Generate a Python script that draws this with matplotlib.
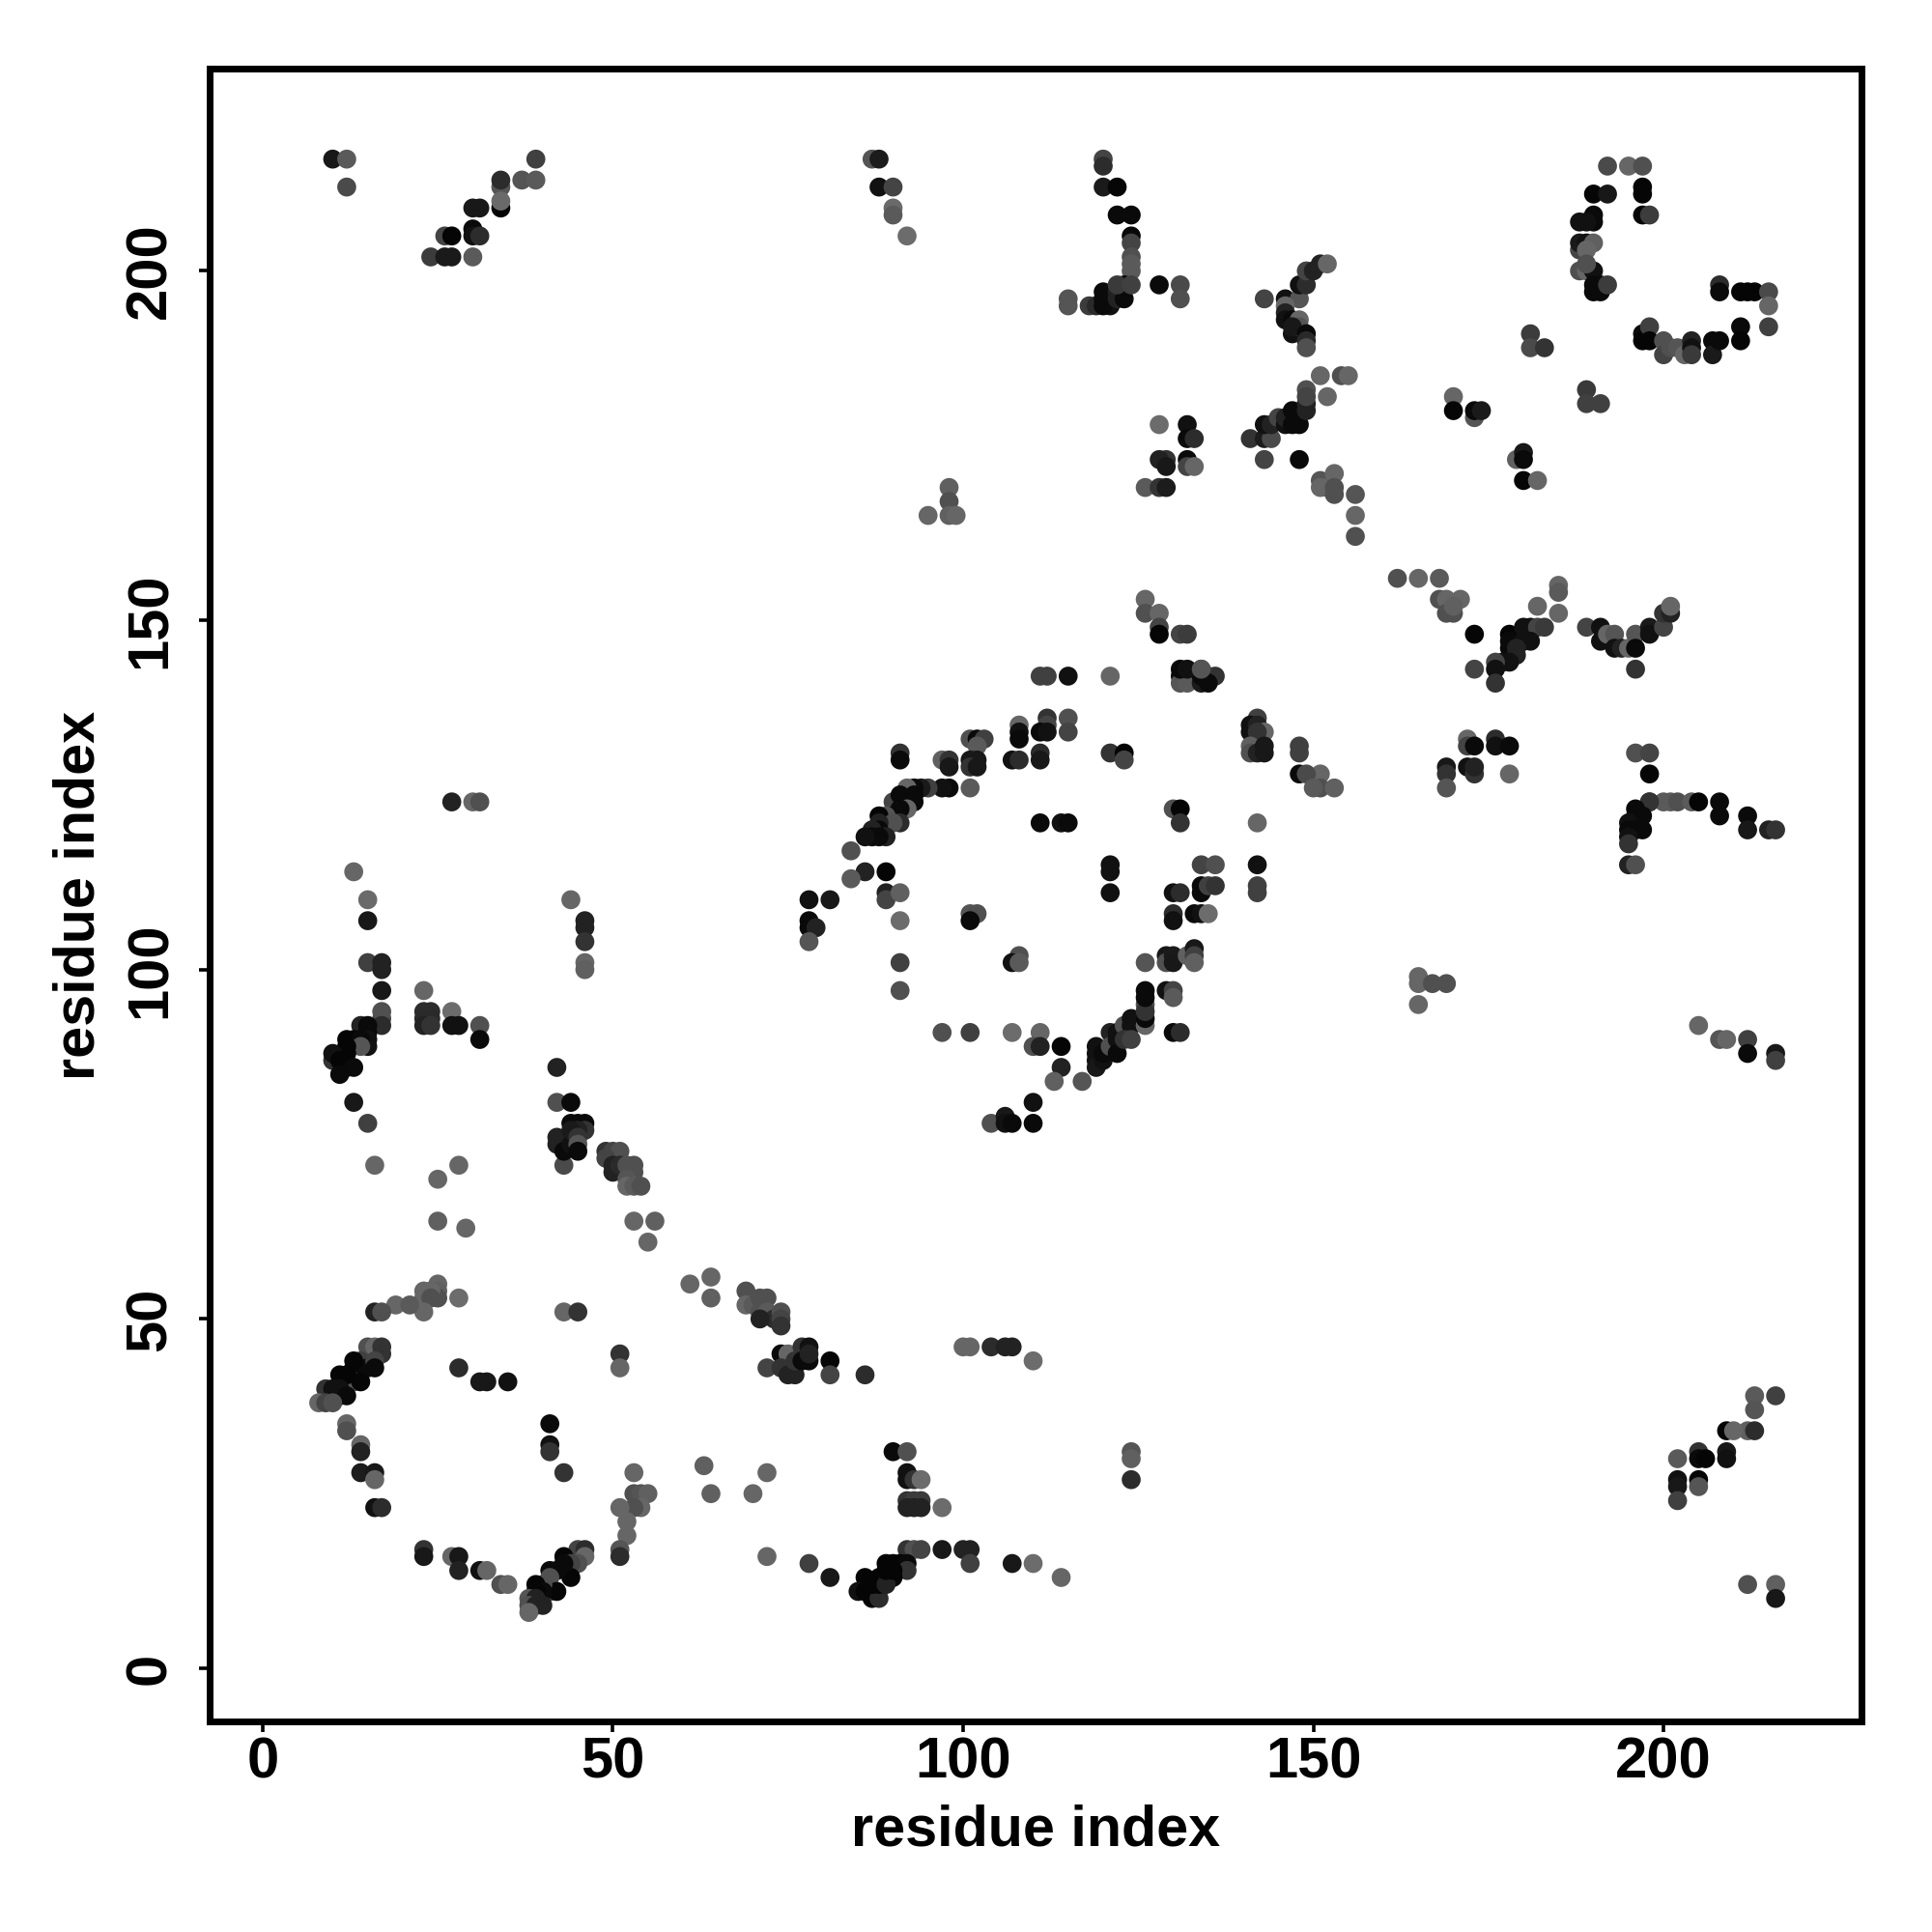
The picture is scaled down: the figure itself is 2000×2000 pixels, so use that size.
import matplotlib
matplotlib.use("Agg")
import matplotlib.pyplot as plt

# contact map: residue pairs and their grey level
res_i = [
    10, 12, 12, 39, 34, 34, 37, 39, 34, 34, 30, 31, 30, 30, 31, 26, 27, 24, 26, 27, 30,
    87, 88, 88, 90, 90, 90, 92, 120, 120, 120, 122, 122, 124, 124, 124, 124, 124, 124,
    118, 119, 115, 115, 121, 120, 120, 120, 122, 122, 123, 123, 122, 124, 128, 131, 131,
    143, 146, 148, 148, 149, 149, 150, 151, 152,
    146, 146, 146, 147, 147, 148, 148, 147, 149, 149, 149,
    128, 132, 132, 133, 129, 128, 129, 132, 132, 133, 126, 128, 129,
    98, 98, 98, 99, 95,
    141, 143, 144, 143, 148, 143, 144, 145, 146, 146, 147, 147, 148, 149, 149, 149, 149, 151, 154, 155, 152,
    126, 126, 128, 128, 128, 131, 132,
    192, 195, 197, 190, 192, 197, 197, 197, 198, 190, 190, 188, 189,
    188, 188, 189, 190, 189, 188, 189, 190, 189, 190, 191, 190, 191, 192,
    208, 208, 211, 212, 213, 215, 215, 215, 211, 211,
    181, 181, 183, 197, 197, 198, 198, 200, 200, 201, 202, 203, 204, 204, 204,
    207, 207, 208, 189, 189, 191, 170, 170, 173, 173, 174,
    179, 180, 180, 180, 182, 156, 156, 156, 151, 152, 151, 153, 153, 153,
    162, 165, 168, 168, 169, 171, 169, 170, 170, 173,
    185, 185, 182, 185, 178, 180, 181, 182, 183, 178, 180, 181, 178, 179, 179, 177, 178, 176, 173, 176, 176,
    189, 191, 191, 192, 193, 193, 194, 195, 196, 196, 198, 198, 200, 200, 201, 201, 196,
    172, 172, 173, 176, 176, 178, 169, 169, 169, 172, 173, 173, 178, 151, 151, 153,
    196, 198, 198, 198, 200, 201, 202, 204, 205, 208, 208, 212, 212, 215, 216,
    198, 197, 196, 196, 197, 195, 196, 195, 195, 195, 195, 196,
    165, 165, 167, 169, 165, 205, 208, 209, 212, 212, 216, 216,
    27, 30, 31, 13, 15, 15, 15, 17, 17, 17, 17, 17, 17,
    14, 15, 15, 15, 15, 12, 13, 14, 14, 12, 12, 10, 10, 11, 12, 13, 11,
    13, 15, 16, 23, 23, 24, 23, 24, 23, 24, 27, 27, 28, 31, 31, 25, 28,
    42, 42, 44, 46, 46, 46, 46, 46, 44,
    43, 42, 42, 43, 43, 44, 44, 45, 46, 46, 45, 44, 45, 45, 45,
    49, 50, 51, 49, 50, 50, 51, 52, 53, 53, 52, 52, 53, 54,
    25, 29, 53, 56, 55, 61, 64, 64,
    25, 25, 25, 23, 23, 24, 24, 23, 19, 21, 28, 16, 17, 43, 45, 51, 51, 28, 31, 32, 35,
    41, 41, 41, 43,
    15, 16, 17, 17, 14, 15, 13, 16, 13, 16, 13, 14, 11, 12, 11, 9, 10, 11, 12, 8, 9, 10,
    12, 12, 14, 14, 14, 16, 16, 16, 17,
    23, 23, 27, 28, 28, 31, 32, 34, 35,
    45, 46, 46, 45, 43, 44, 44, 42, 41, 41, 41, 42, 40, 39, 40, 39, 38, 39, 40, 38, 39, 38, 43,
    53, 53, 54, 55, 54, 53, 51, 52, 52, 51, 51,
    63, 64, 70, 72, 72,
    69, 69, 70, 71, 72, 71, 72, 73, 74, 74, 74, 71,
    72, 74, 75, 74, 75, 76, 76, 77, 78, 78, 77, 78, 81, 81, 86,
    100, 101, 104, 106, 107, 110,
    90, 92, 92, 92, 93, 94, 92, 93, 94, 92, 93, 94, 97,
    92, 93, 94, 97, 100, 101, 101, 107, 110, 114, 78, 81, 124, 124, 124,
    89, 90, 91, 92, 92, 86, 88, 90, 85, 86, 87, 88, 87, 88, 89, 89, 90,
    213, 216, 213, 209, 212, 213, 210, 205, 209, 209, 202, 205, 206,
    202, 202, 202, 205, 205, 212, 216, 216,
    111, 112, 115, 121, 131, 132, 131, 132, 134, 135, 136, 134, 135, 134,
    131, 132, 134, 112, 112, 111, 112, 115, 115, 108, 108, 108,
    101, 102, 103, 102, 91, 91, 97, 98, 98,
    101, 102, 101, 102, 107, 108, 111, 111,
    101, 98, 97, 95, 94, 93, 92, 93, 92, 91, 90, 91, 93, 92, 91,
    90, 89, 88, 91, 90, 88, 88, 87, 89, 88, 87, 86,
    84, 86, 89, 84, 78, 81, 89, 89, 91, 91,
    78, 78, 79, 78, 91, 91, 101, 102, 101, 108, 107, 108,
    97, 101, 107, 111, 110, 111, 114, 114, 113, 117, 110, 110, 104, 106, 106, 107,
    119, 119, 119, 119, 120, 120, 121, 121, 122, 122, 122, 123, 124, 124, 123, 124,
    126, 126, 126, 126, 126, 126, 126, 129, 130, 130,
    129, 129, 130, 130, 132, 133, 133, 133,
    130, 130, 133, 134, 135, 130, 131, 134, 134, 135, 136, 134, 136, 130, 131,
    121, 121, 121, 130, 131, 131, 142, 111, 114, 115, 121, 123, 123,
    142, 141, 141, 142, 143, 142, 141, 141, 142, 143, 143, 142, 142, 142,
    148, 148, 148, 149, 150,
]
res_j = [
    216, 216, 212, 216, 212, 213, 213, 213, 209, 210, 209, 209, 206, 205, 205, 205, 205, 202, 202, 202, 202,
    216, 216, 212, 212, 209, 208, 205, 216, 215, 212, 212, 208, 208, 205, 204, 202, 201, 200,
    195, 195, 195, 196, 195, 197, 196, 195, 197, 196, 198, 196, 198, 198, 198, 198, 196,
    196, 196, 196, 198, 198, 200, 200, 201, 201,
    195, 194, 193, 193, 191, 193, 192, 192, 191, 190, 189,
    178, 178, 176, 176, 173, 173, 172, 173, 172, 172, 169, 169, 169,
    169, 167, 165, 165, 165,
    176, 176, 176, 173, 173, 178, 178, 179, 178, 179, 178, 180, 178, 181, 180, 183, 182, 185, 185, 185, 182,
    153, 151, 151, 149, 148, 148, 148,
    215, 215, 215, 211, 211, 212, 211, 208, 208, 208, 207, 207, 207,
    203, 204, 204, 204, 203, 200, 200, 200, 201, 198, 198, 197, 197, 198,
    198, 197, 197, 197, 197, 197, 195, 192, 192, 190,
    191, 189, 189, 191, 190, 192, 190, 190, 188, 189, 189, 188, 190, 189, 188,
    190, 188, 190, 183, 181, 181, 182, 180, 179, 180, 180,
    173, 174, 173, 170, 170, 168, 165, 162, 170, 169, 169, 171, 169, 168,
    156, 156, 156, 153, 153, 153, 151, 151, 152, 148,
    155, 154, 152, 151, 148, 149, 149, 149, 149, 147, 147, 147, 146, 146, 145, 144, 144, 144, 143, 143, 141,
    149, 149, 147, 148, 148, 146, 146, 146, 148, 146, 149, 148, 149, 151, 151, 152, 143,
    133, 132, 132, 133, 132, 132, 129, 128, 126, 129, 128, 129, 128, 128, 126, 126,
    131, 131, 128, 124, 124, 124, 124, 124, 124, 124, 122, 122, 120, 120, 120,
    124, 122, 123, 122, 120, 121, 120, 120, 119, 118, 115, 115,
    99, 98, 98, 98, 95, 92, 90, 90, 90, 88, 88, 87,
    124, 124, 124, 114, 110, 107, 101, 101, 100, 97, 93, 94, 92,
    92, 92, 91, 90, 89, 90, 90, 90, 89, 89, 88, 87, 88, 87, 86, 86, 85,
    81, 78, 72, 97, 94, 94, 93, 93, 92, 92, 94, 92, 92, 92, 90, 70, 72,
    86, 81, 81, 107, 106, 104, 101, 100, 110,
    72, 76, 75, 75, 74, 75, 78, 78, 78, 77, 77, 77, 76, 75, 74,
    74, 74, 74, 73, 72, 71, 72, 72, 72, 71, 70, 69, 69, 69,
    64, 63, 64, 64, 61, 55, 56, 53,
    55, 54, 53, 54, 53, 54, 53, 51, 52, 52, 53, 51, 51, 51, 51, 45, 43, 43, 41, 41, 41,
    35, 32, 31, 28,
    46, 46, 46, 45, 44, 43, 43, 44, 44, 43, 41, 41, 42, 42, 39, 40, 40, 40, 39, 38, 38, 38,
    35, 34, 32, 31, 28, 28, 27, 23, 23,
    17, 16, 16, 16, 14, 14, 14, 12, 12,
    17, 17, 16, 15, 16, 15, 13, 14, 14, 13, 11, 11, 12, 12, 11, 11, 10, 10, 9, 9, 9, 8, 15,
    28, 25, 25, 25, 23, 23, 23, 21, 19, 17, 16,
    29, 25, 25, 28, 16,
    54, 52, 52, 53, 53, 51, 51, 50, 51, 50, 49, 50,
    43, 45, 45, 43, 42, 42, 44, 46, 46, 44, 44, 45, 44, 42, 42,
    46, 46, 46, 46, 46, 44,
    31, 31, 28, 27, 27, 27, 24, 24, 24, 23, 23, 23, 23,
    17, 17, 17, 17, 17, 17, 15, 15, 15, 13, 15, 13, 31, 30, 27,
    15, 15, 15, 15, 14, 13, 13, 13, 11, 11, 10, 10, 12, 12, 12, 14, 14,
    39, 39, 37, 34, 34, 34, 34, 31, 31, 30, 30, 30, 30,
    27, 26, 24, 27, 26, 12, 12, 10,
    142, 142, 142, 142, 142, 142, 141, 141, 143, 142, 142, 141, 141, 142,
    143, 143, 143, 136, 135, 134, 134, 136, 134, 135, 134, 133,
    133, 133, 133, 132, 131, 130, 130, 130, 129,
    130, 130, 129, 129, 130, 130, 131, 130,
    126, 126, 126, 126, 126, 126, 126, 124, 124, 124, 124, 125, 125, 123, 123,
    122, 122, 122, 121, 121, 121, 120, 120, 119, 119, 119, 119,
    117, 114, 114, 113, 110, 110, 111, 110, 111, 107,
    107, 106, 106, 104, 101, 97, 108, 108, 107, 102, 101, 101,
    91, 91, 91, 91, 89, 89, 89, 86, 84, 84, 81, 78, 78, 79, 78, 78,
    89, 88, 87, 86, 87, 88, 91, 89, 91, 90, 88, 92, 93, 92, 90, 90,
    92, 93, 95, 94, 97, 96, 101, 97, 97, 96,
    102, 101, 102, 101, 102, 103, 102, 101,
    108, 107, 108, 108, 108, 111, 111, 112, 111, 112, 112, 115, 115, 91, 91,
    115, 114, 111, 123, 123, 121, 121, 121, 121, 121, 131, 131, 130,
    136, 135, 134, 135, 134, 134, 132, 131, 131, 132, 131, 115, 112, 111,
    132, 131, 128, 128, 126,
]
grey = [
    24, 90, 74, 64, 85, 44, 85, 90, 5, 106, 24, 24, 10, 17, 44, 68, 5, 60, 26, 26, 90,
    85, 28, 17, 68, 106, 90, 108, 68, 44, 26, 6, 10, 10, 8, 68, 80, 90, 90,
    60, 42, 85, 85, 17, 10, 10, 10, 34, 34, 10, 10, 58, 64, 10, 74, 80,
    68, 17, 85, 17, 44, 68, 34, 34, 102,
    102, 34, 17, 10, 17, 102, 85, 24, 10, 42, 80,
    108, 17, 10, 44, 51, 34, 24, 10, 68, 102, 90, 51, 28,
    96, 80, 96, 102, 102,
    51, 28, 74, 68, 8, 17, 34, 68, 17, 34, 10, 10, 10, 34, 34, 80, 68, 102, 80, 102, 102,
    102, 80, 102, 68, 5, 68, 60,
    74, 102, 80, 6, 24, 6, 6, 6, 60, 10, 10, 17, 17,
    68, 26, 17, 96, 102, 80, 102, 17, 80, 10, 10, 10, 10, 60,
    44, 10, 5, 5, 5, 74, 102, 64, 10, 5,
    60, 74, 51, 10, 5, 64, 5, 80, 68, 80, 85, 102, 34, 17, 58,
    10, 26, 10, 58, 64, 64, 102, 6, 85, 10, 26,
    96, 24, 10, 6, 102, 85, 102, 80, 85, 96, 102, 102, 80, 80,
    80, 102, 90, 80, 102, 102, 80, 80, 96, 6,
    102, 90, 102, 102, 5, 17, 17, 68, 58, 10, 17, 17, 10, 34, 34, 17, 17, 68, 68, 17, 51,
    68, 17, 17, 102, 85, 17, 34, 102, 85, 10, 26, 17, 68, 51, 34, 102, 51,
    102, 68, 10, 44, 17, 10, 24, 51, 85, 17, 51, 34, 102, 102, 80, 96,
    80, 68, 6, 60, 90, 90, 80, 90, 5, 10, 10, 10, 24, 34, 51,
    51, 10, 10, 10, 10, 17, 10, 10, 17, 51, 34, 80,
    102, 102, 80, 80, 102, 102, 85, 102, 64, 10, 24, 64,
    34, 102, 80, 102, 106, 24, 64, 34, 34, 24, 74, 80, 44,
    34, 10, 10, 17, 17, 5, 5, 10, 85, 5, 5, 51, 17, 5, 5, 10, 10,
    24, 64, 102, 102, 44, 44, 42, 42, 34, 51, 108, 17, 17, 80, 10, 102, 102,
    34, 80, 10, 34, 34, 51, 102, 96, 102,
    74, 34, 34, 34, 10, 17, 10, 10, 10, 51, 34, 26, 51, 85, 10,
    51, 68, 80, 68, 34, 34, 42, 80, 80, 80, 85, 102, 90, 80,
    96, 102, 102, 96, 102, 102, 102, 96,
    102, 96, 80, 102, 102, 102, 80, 102, 102, 90, 108, 34, 80, 102, 51, 51, 102, 44, 24, 24, 17,
    10, 17, 51, 51,
    80, 102, 51, 51, 64, 10, 10, 68, 6, 10, 85, 6, 6, 5, 10, 51, 17, 17, 10, 102, 68, 80,
    102, 80, 102, 34, 28, 24, 102, 17, 44,
    51, 24, 102, 24, 34, 17, 102, 80, 102,
    68, 44, 102, 80, 6, 68, 6, 10, 10, 80, 68, 6, 80, 6, 10, 6, 85, 34, 34, 80, 34, 102, 10,
    102, 80, 85, 96, 102, 80, 102, 102, 102, 85, 44,
    96, 96, 102, 102, 102,
    80, 102, 90, 80, 80, 80, 90, 44, 80, 68, 51, 34,
    68, 10, 102, 51, 34, 34, 51, 51, 17, 10, 10, 34, 6, 68, 44,
    102, 102, 44, 34, 34, 108,
    10, 80, 17, 17, 51, 108, 51, 60, 60, 34, 34, 34, 108,
    51, 80, 68, 24, 34, 34, 64, 24, 108, 102, 64, 24, 85, 96, 44,
    5, 5, 5, 10, 51, 5, 5, 5, 17, 5, 5, 44, 5, 5, 34, 5, 5,
    90, 64, 85, 5, 96, 44, 102, 51, 24, 17, 90, 10, 5,
    17, 24, 64, 6, 85, 80, 96, 24,
    64, 64, 17, 102, 10, 34, 85, 90, 85, 51, 51, 26, 10, 10,
    10, 17, 85, 51, 68, 10, 17, 80, 68, 102, 17, 10,
    80, 10, 64, 90, 51, 10, 96, 51, 24,
    24, 24, 51, 24, 17, 44, 44, 24,
    90, 10, 17, 64, 26, 10, 102, 10, 10, 10, 68, 10, 10, 102, 10,
    10, 85, 6, 44, 80, 34, 10, 34, 34, 10, 10, 17,
    80, 34, 5, 90, 17, 24, 34, 68, 96, 108,
    10, 10, 34, 85, 64, 80, 85, 80, 10, 80, 17, 90,
    80, 64, 108, 102, 80, 34, 5, 34, 96, 85, 17, 10, 80, 24, 17, 10,
    17, 17, 17, 24, 17, 10, 34, 80, 17, 17, 10, 80, 17, 17, 51, 64,
    102, 10, 80, 51, 10, 10, 85, 17, 68, 90,
    24, 80, 26, 24, 96, 24, 64, 96,
    44, 17, 10, 17, 108, 17, 44, 10, 10, 64, 51, 68, 80, 10, 44,
    17, 17, 17, 80, 5, 51, 102, 10, 17, 10, 51, 5, 68,
    64, 17, 17, 34, 102, 51, 96, 80, 34, 24, 24, 17, 64, 64,
    64, 64, 10, 74, 90,
]

x_ticks = [0, 50, 100, 150, 200]
y_ticks = [0, 50, 100, 150, 200]

plt.rcParams['font.family'] = ['Liberation Sans', 'DejaVu Sans']

fig = plt.figure(figsize=(10, 10), dpi=200)
ax = fig.add_axes([216.8 / 2000, 1 - 1782 / 2000, (1927.3 - 216.8) / 2000, (1782 - 71.4) / 2000])

ax.scatter(res_i, res_j, c=grey, cmap='gray', vmin=0, vmax=255, s=50, linewidths=0)

ax.set_xlim(-7.6, 228.3)
ax.set_ylim(-7.6, 228.9)
ax.set_xticks(x_ticks)
ax.set_yticks(y_ticks)
ax.tick_params(axis='both', length=4, width=1.3, labelsize=21.5)
ax.tick_params(axis='x', pad=1.5)
ax.tick_params(axis='y', pad=8)
for lab in ax.get_xticklabels() + ax.get_yticklabels():
    lab.set_fontweight('bold')
for lab in ax.get_yticklabels():
    lab.set_rotation(90)
    lab.set_va('center')
for side in ax.spines.values():
    side.set_linewidth(2.5)

ax.set_xlabel('residue index', fontsize=21.4, fontweight='bold')
ax.set_ylabel('residue index', fontsize=21.4, fontweight='bold')
ax.xaxis.set_label_coords(0.5, -0.0497)
ax.yaxis.set_label_coords(-0.063, 0.5)

fig.savefig('out.png', dpi=200)
